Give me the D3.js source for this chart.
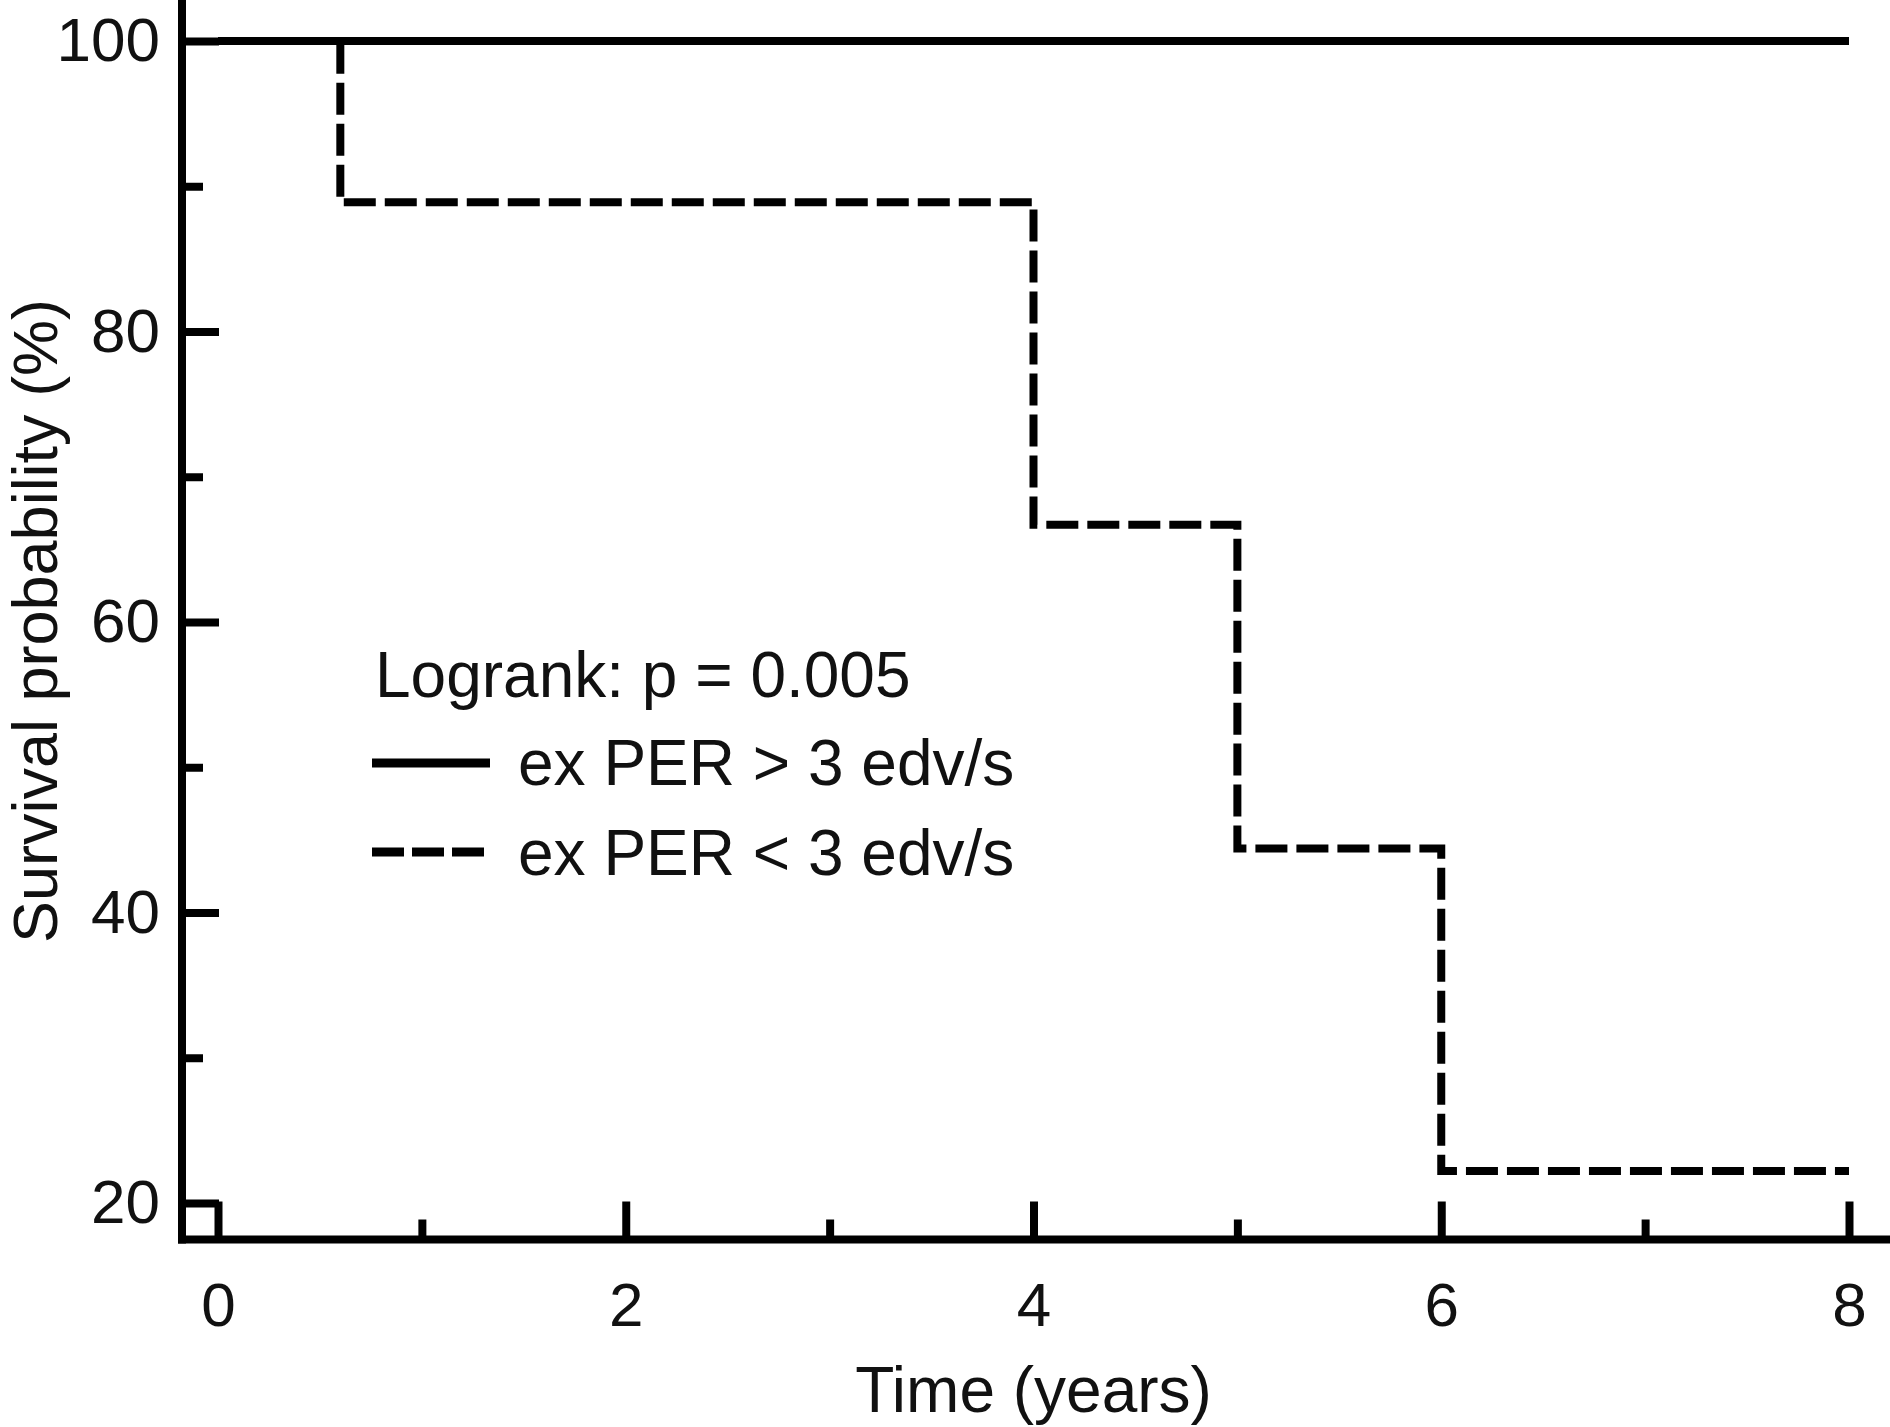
<!DOCTYPE html>
<html>
<head>
<meta charset="utf-8">
<script src="https://cdn.jsdelivr.net/npm/d3@7"></script>
<style>
  html, body { margin: 0; padding: 0; background: #fff; }
  svg { display: block; }
  text { font-family: "Liberation Sans", Arial, Helvetica, sans-serif; fill: #111; }
</style>
</head>
<body>
<svg id="chart" width="1890" height="1427"></svg>
<script>
// ---- data ----
const xMajorTicks = [0, 2, 4, 6, 8];
const xMinorTicks = [1, 3, 5, 7];
const yMajorTicks = [20, 40, 60, 80, 100];
const yMinorTicks = [30, 50, 70, 90];

const highTimes = [0, 8];
const highSurvival = [100, 100];

const lowTimes = [0, 0.6, 4, 5, 6, 8];
const lowSurvival = [100, 88.9, 66.7, 44.4, 22.2, 22.2];

const legendTitle = "Logrank: p = 0.005";
const seriesNames = ["ex PER > 3 edv/s", "ex PER < 3 edv/s"];
const xTitle = "Time (years)";
const yTitle = "Survival probability (%)";

// ---- layout ----
const svg = d3.select("#chart");
const W = 1890, H = 1427;
const axisX = 182, axisY = 1239.5;
const x = d3.scaleLinear().domain([0, 8]).range([218, 1849]);
const y = d3.scaleLinear().domain([20, 100]).range([1203, 41]);
const SW = 8;

// axis lines
svg.append("line").attr("x1", axisX).attr("x2", axisX).attr("y1", 0).attr("y2", axisY + SW / 2)
  .attr("stroke", "#000").attr("stroke-width", SW);
svg.append("line").attr("x1", axisX - SW / 2).attr("x2", W).attr("y1", axisY).attr("y2", axisY)
  .attr("stroke", "#000").attr("stroke-width", SW);

function styleAxis(g) {
  g.select(".domain").remove();
  g.selectAll(".tick line").attr("stroke", "#000").attr("stroke-width", SW);
  g.selectAll(".tick text").style("font-size", "62px").attr("fill", "#111");
}

// y axis major
svg.append("g").attr("transform", `translate(${axisX},0)`)
  .call(d3.axisLeft(y).tickValues(yMajorTicks).tickSize(-37).tickPadding(22).tickFormat(d3.format("d")))
  .call(styleAxis);
// y axis minor
svg.append("g").attr("transform", `translate(${axisX},0)`)
  .call(d3.axisLeft(y).tickValues(yMinorTicks).tickSize(-21).tickFormat(""))
  .call(styleAxis);
// x axis major
svg.append("g").attr("transform", `translate(0,${axisY})`)
  .call(d3.axisBottom(x).tickValues(xMajorTicks).tickSize(-38).tickPadding(42).tickFormat(d3.format("d")))
  .call(styleAxis);
// x axis minor
svg.append("g").attr("transform", `translate(0,${axisY})`)
  .call(d3.axisBottom(x).tickValues(xMinorTicks).tickSize(-20).tickFormat(""))
  .call(styleAxis);

// curves
const line = d3.line().x(d => x(d[0])).y(d => y(d[1])).curve(d3.curveStepAfter);
svg.append("path").datum(d3.zip(highTimes, highSurvival))
  .attr("d", line).attr("fill", "none").attr("stroke", "#000").attr("stroke-width", SW);
svg.append("path").datum(d3.zip(lowTimes, lowSurvival))
  .attr("d", line).attr("fill", "none").attr("stroke", "#000").attr("stroke-width", SW)
  .attr("stroke-dasharray", "32,9");

// axis titles
svg.append("text").attr("x", x(4)).attr("y", 1412).attr("text-anchor", "middle")
  .style("font-size", "64px").text(xTitle);
svg.append("text").attr("transform", "translate(57,621) rotate(-90)").attr("text-anchor", "middle")
  .style("font-size", "63px").text(yTitle);

// legend
svg.append("text").attr("x", 375).attr("y", 697).style("font-size", "64px").text(legendTitle);
svg.append("line").attr("x1", 372).attr("x2", 490).attr("y1", 763).attr("y2", 763)
  .attr("stroke", "#000").attr("stroke-width", 9);
svg.append("text").attr("x", 518).attr("y", 785).style("font-size", "64px").text(seriesNames[0]);
svg.append("line").attr("x1", 372).attr("x2", 484).attr("y1", 852).attr("y2", 852)
  .attr("stroke", "#000").attr("stroke-width", 9).attr("stroke-dasharray", "32,8");
svg.append("text").attr("x", 518).attr("y", 875).style("font-size", "64px").text(seriesNames[1]);
</script>
</body>
</html>
